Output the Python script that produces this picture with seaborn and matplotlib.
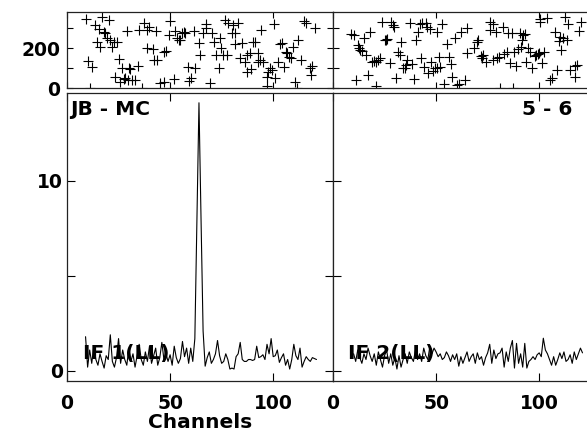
#POSSM-style baseline plot: phase (top) and amplitude (bottom) vs channel, two IFs

import numpy as np
import matplotlib
matplotlib.use('Agg')
import matplotlib.pyplot as plt
from matplotlib.ticker import MultipleLocator
import seaborn as sns

sns.set_style('ticks')
plt.rcParams['font.family'] = ['DejaVu Sans']
plt.rcParams['font.weight'] = 'bold'
plt.rcParams['font.size'] = 13.5
plt.rcParams['text.color'] = 'black'
plt.rcParams['axes.labelcolor'] = 'black'

# 1. Data

baseline = 'JB - MC'
scan = '5 - 6'
if_labels = ['IF 1(LL)', 'IF 2(LL)']
x_label = 'Channels'

# amplitude spectra
amp_chan_1 = np.arange(9, 122)
amp_1 = [1.8, 0.2, 1.1, 0.4, 1.3, 0.6, 0.3, 0.9, 0.5, 0.15,
         0.8, 0.6, 1.9, 0.5, 0.2, 0.7, 1.7, 0.4, 1.1, 0.6,
         0.3, 1.2, 0.5, 0.9, 0.2, 0.8, 1.4, 0.6, 0.3, 1.0,
         0.5, 1.3, 0.4, 0.8, 1.2, 0.3, 0.7, 1.5, 0.6, 0.9,
         0.5, 0.85, 0.3, 1.3, 0.7, 0.4, 0.65, 1.55, 0.75, 1.2,
         0.4, 1.2, 0.5, 1.7, 7.9, 14.1, 8.0, 2.1, 0.25, 0.7,
         1.0, 0.4, 0.6, 0.9, 1.6, 0.8, 0.4, 0.5, 0.9, 0.6,
         0.1, 0.15, 0.1, 0.75, 0.9, 1.5, 0.6, 0.5, 0.5, 0.6,
         0.6, 0.55, 0.6, 1.3, 0.7, 0.75, 0.85, 0.6, 1.4, 0.9,
         1.7, 0.75, 0.8, 1.1, 0.45, 0.7, 0.9, 0.3, 0.6, 0.1,
         0.6, 1.4, 0.8, 0.6, 1.2, 0.2, 0.5, 0.75, 0.6, 0.5,
         0.7, 0.65, 0.6]

amp_chan_2 = np.arange(10, 122)
amp_2 = [0.9, 0.5, 1.1, 0.7, 0.4, 0.9, 0.6, 1.2, 0.8, 0.5,
         0.9, 0.3, 1.0, 0.6, 0.2, 0.8, 1.1, 0.4, 0.9, 0.3,
         0.7, 0.1, 0.8, 0.2, 0.6, 0.9, 0.4, 1.0, 0.7, 0.5,
         1.1, 0.6, 0.9, 0.5, 1.2, 0.8, 0.6, 1.3, 0.9,
         1.2, 1.0, 0.75, 0.9, 0.6, 0.7, 1.0, 0.8, 0.5, 0.85,
         0.6, 0.9, 0.25, 0.75, 0.4, 0.7, 1.0, 0.5, 0.75, 0.9,
         0.4, 0.95, 0.6, 0.75, 0.3, 0.7, 0.95, 1.4, 0.4, 1.1,
         0.65, 0.9, 0.95, 1.2, 0.2, 1.0, 0.5, 1.2, 1.6, 0.15,
         1.45, 0.4, 0.9, 0.2, 1.45, 0.15, 0.5, 0.6, 0.75, 0.6,
         0.85, 0.95, 0.75, 1.72, 1.1, 0.9, 0.6, 0.3, 0.75, 0.3,
         0.6, 0.95, 0.65, 1.0, 0.5, 0.6, 0.85, 0.4, 1.0, 0.6,
         0.9, 1.2, 0.95]

# phases (degrees)
phase_chan_1 = [9.4, 10.2, 11.0, 12.1, 13.8, 14.6, 15.4, 16.2, 17.0, 17.8,
                18.6, 19.4, 20.2, 20.7, 21.8, 22.7, 23.5, 24.3, 25.1, 25.9,
                26.7, 27.5, 28.3, 29.1, 29.4, 29.9, 30.7, 31.6, 33.2, 34.5,
                34.8, 36.4, 37.2, 38.8, 38.8, 39.6, 41.7, 42.4, 43.4, 43.7,
                45.3, 46.9, 46.9, 48.2, 49.4, 49.8, 51.8, 52.6, 53.4, 54.2,
                55.0, 55.8, 56.6, 57.4, 58.6, 59.1, 60.2, 61.5, 62.3, 63.9,
                64.7, 66.0, 67.2, 67.6, 69.3, 70.1, 71.4, 72.5, 73.6, 74.1,
                74.9, 75.7, 76.5, 77.8, 78.2, 79.8, 80.6, 81.4, 81.7, 83.0,
                83.8, 85.0, 86.3, 87.1, 87.5, 88.7, 89.2, 90.3, 91.1, 92.4,
                92.7, 93.5, 94.3, 95.2, 96.8, 96.8, 97.6, 98.4, 99.2, 100.5,
                101.1, 102.1, 103.2, 104.1, 105.3, 106.0, 106.9, 107.6, 108.6, 109.7,
                110.5, 111.3, 112.1, 113.4, 115.1, 115.7, 117.8, 118.3, 118.9, 120.2]
phase_1 = [347, 138, 0, 108, 317, 233, 297, 208, 358, 283,
           275, 250, 342, 242, 208, 233, 55, 233, 147, 30,
           100, 47, 53, 287, 42, 100, 97, 42, 42, 113,
           292, 0, 325, 292, 203, 308, 197, 142, 287, 142,
           25, 30, 180, 187, 267, 338, 47, 287, 253, 242,
           242, 275, 283, 275, 108, 38, 50, 287, 100, 225,
           167, 275, 320, 300, 25, 275, 233, 167, 100, 253,
           200, 167, 342, 167, 325, 275, 317, 220, 275, 325,
           153, 225, 133, 83, 167, 175, 97, 233, 233, 175,
           133, 142, 292, 133, 13, 58, 83, 100, 92, 320,
           50, 133, 220, 225, 108, 183, 175, 158, 150, 208,
           33, 0, 242, 142, 337, 325, 100, 67, 113, 300]

phase_chan_2 = [8.9, 10.0, 11.0, 12.1, 12.6, 13.3, 14.2, 14.9, 16.2, 17.0,
                18.1, 19.1, 19.7, 20.7, 21.0, 21.8, 23.0, 23.9, 25.1, 25.6,
                26.2, 27.5, 28.3, 29.1, 29.4, 30.4, 31.6, 32.4, 33.2, 34.0,
                34.8, 35.3, 35.9, 37.2, 38.5, 39.2, 40.1, 41.3, 42.1, 42.9,
                43.4, 44.0, 45.0, 45.6, 46.1, 46.9, 47.7, 48.5, 49.4, 50.2,
                50.5, 51.5, 52.1, 53.1, 53.7, 55.3, 56.3, 57.0, 57.9, 59.1,
                59.9, 61.2, 62.3, 64.1, 65.2, 65.2, 68.4, 69.7, 70.5, 71.7,
                72.2, 72.7, 74.3, 75.9, 76.2, 77.5, 77.8, 79.1, 79.4, 80.7,
                81.1, 82.4, 82.7, 84.6, 85.1, 85.6, 86.7, 87.2, 87.9, 88.8,
                89.5, 90.8, 91.1, 91.6, 92.1, 93.2, 93.7, 94.8, 95.6, 96.4,
                98.1, 98.5, 99.2, 99.7, 100.2, 100.5, 101.3, 102.1, 104.0, 105.0,
                106.2, 107.8, 108.6, 109.4, 110.2, 110.5, 111.5, 112.6, 113.4, 114.2,
                115.0, 117.5, 117.5, 118.3, 119.1, 120.2]
phase_2 = [270, 267, 42, 217, 203, 192, 187, 250, 167, 67,
           280, 133, 137, 133, 13, 142, 150, 330, 242, 242,
           247, 125, 330, 317, 308, 50, 183, 167, 233, 103,
           103, 117, 142, 325, 120, 47, 242, 283, 320, 150,
           325, 108, 325, 308, 75, 297, 133, 87, 100, 283,
           100, 158, 108, 320, 20, 220, 158, 120, 58, 250,
           17, 20, 280, 42, 300, 175, 203, 233, 242, 163,
           150, 167, 130, 330, 292, 142, 320, 283, 150, 158,
           3, 308, 170, 183, 275, 125, 275, 3, 183, 113,
           197, 275, 208, 242, 267, 270, 130, 200, 183, 100,
           163, 167, 170, 175, 347, 333, 125, 180, 350, 42,
           50, 280, 92, 237, 258, 192, 250, 358, 242, 320,
           92, 113, 58, 117, 287, 333]

# 2. Layout (two columns of phase-over-amplitude panels)

fig = plt.figure(figsize=(5.87, 4.34), dpi=100)
left0 = 67 / 587
width = 266 / 587
ph_box = [0.7965, 0.1765]
am_box = [0.1221, 0.663]

ax_p1 = fig.add_axes([left0, ph_box[0], width, ph_box[1]])
ax_a1 = fig.add_axes([left0, am_box[0], width, am_box[1]])
ax_p2 = fig.add_axes([left0 + width, ph_box[0], width, ph_box[1]])
ax_a2 = fig.add_axes([left0 + width, am_box[0], width, am_box[1]])

# 3. Draw

for ax_p, ax_a, ch, ph, ach, amp in [(ax_p1, ax_a1, phase_chan_1, phase_1, amp_chan_1, amp_1),
                                      (ax_p2, ax_a2, phase_chan_2, phase_2, amp_chan_2, amp_2)]:
    sns.scatterplot(x=ch, y=ph, ax=ax_p, marker='+', s=45, color='black', linewidth=0.8)
    sns.lineplot(x=ach, y=amp, ax=ax_a, color='black', linewidth=0.8)

    ax_p.set_xlim(0, 129)
    ax_p.set_ylim(0, 383)
    ax_a.set_xlim(0, 129)
    ax_a.set_ylim(-0.53, 14.6)

    ax_p.yaxis.set_major_locator(MultipleLocator(200))
    ax_p.yaxis.set_minor_locator(MultipleLocator(100))
    ax_a.yaxis.set_major_locator(MultipleLocator(10))
    ax_a.yaxis.set_minor_locator(MultipleLocator(5))
    for ax in (ax_p, ax_a):
        ax.xaxis.set_major_locator(MultipleLocator(50))
        ax.tick_params(which='both', direction='in', top=True, right=True,
                       length=6, width=0.8, colors='black')
        for sp in ax.spines.values():
            sp.set_linewidth(0.9)
            sp.set_color('#222222')
        ax.set_xlabel('')
        ax.set_ylabel('')
    ax_p.tick_params(which='both', length=4)
    ax_p.tick_params(labelbottom=False)
    ax_a.tick_params(axis='x', pad=9)
    ax_a.tick_params(axis='y', pad=3)
    ax_p.tick_params(axis='y', pad=5)

ax_p2.tick_params(labelleft=False)
ax_a2.tick_params(labelleft=False)

ax_a1.set_xlabel(x_label, fontweight='bold', fontsize=14.5, labelpad=0)

ax_a1.text(0.012, 0.975, baseline, transform=ax_a1.transAxes, ha='left', va='top',
           fontweight='bold', fontsize=14.5)
ax_a2.text(0.90, 0.975, scan, transform=ax_a2.transAxes, ha='right', va='top',
           fontweight='bold', fontsize=14.5)
ax_a1.text(0.06, 0.097, if_labels[0], transform=ax_a1.transAxes, ha='left', va='center',
           fontweight='bold', fontsize=14.5)
ax_a2.text(0.056, 0.097, if_labels[1], transform=ax_a2.transAxes, ha='left', va='center',
           fontweight='bold', fontsize=14.5)

fig.savefig('out.png', dpi=100)
